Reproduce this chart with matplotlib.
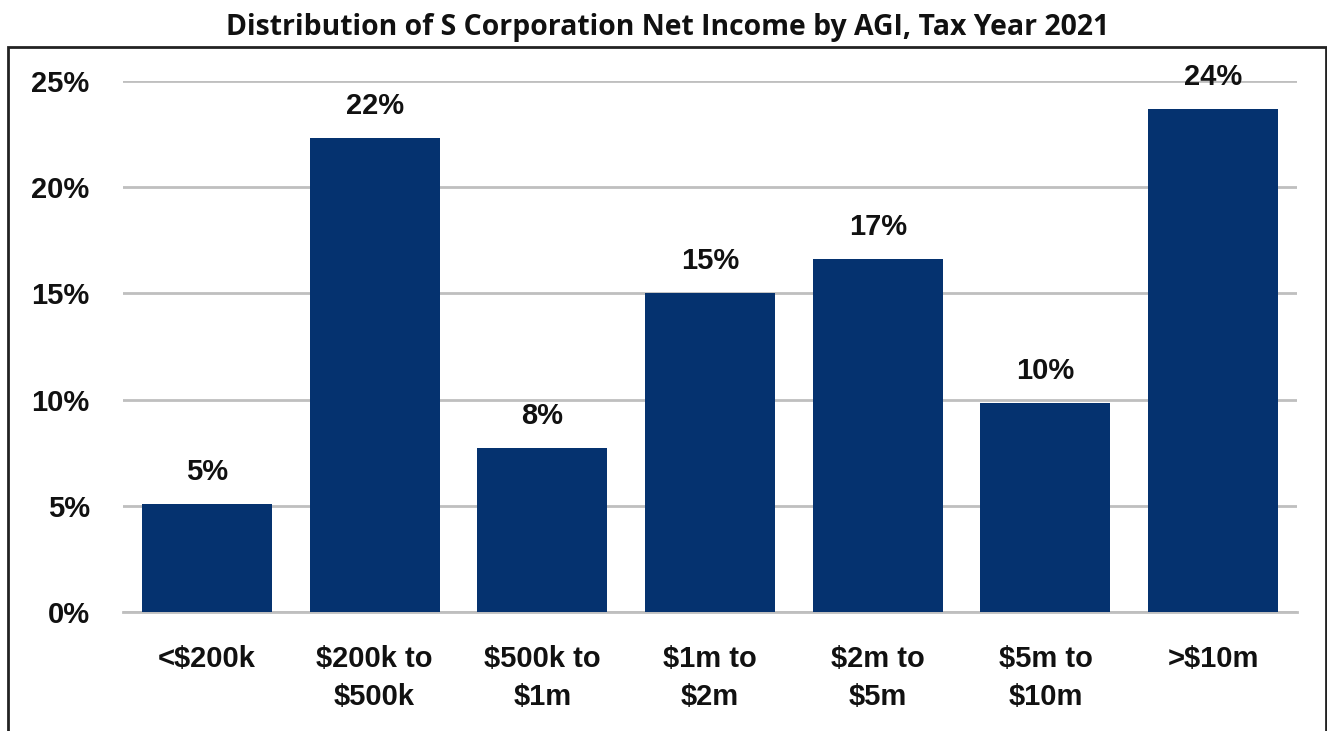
import matplotlib.pyplot as plt
from matplotlib.patches import Rectangle

# data
categories = ['<$200k', '$200k to\n$500k', '$500k to\n$1m', '$1m to\n$2m',
              '$2m to\n$5m', '$5m to\n$10m', '>$10m']
shares = [5.1, 22.3, 7.7, 15.0, 16.6, 9.85, 23.7]
yticks = [0, 5, 10, 15, 20, 25]

bar_color = '#05326f'
grid_color = '#bfbfbf'

plt.rcParams['font.family'] = ['Liberation Sans', 'DejaVu Sans']

fig = plt.figure(figsize=(13.27, 7.31), dpi=100)
ax = fig.add_axes([0.0927, 0.1628, 0.8847, 0.7264])

x = list(range(len(categories)))
ax.bar(x, shares, width=0.775, color=bar_color, zorder=3)

for xi, v in zip(x, shares):
    ax.annotate(f'{round(v):.0f}%', (xi, v), xytext=(0, 13), textcoords='offset points',
                ha='center', va='bottom', fontsize=21, fontweight='bold',
                color='#111111', clip_on=False, zorder=4)

ax.set_xlim(-0.5, len(categories) - 0.5)
ax.set_ylim(0, 25)
ax.set_yticks(yticks)
ax.set_yticklabels([f'{t}%' for t in yticks], fontsize=21, fontweight='bold', color='#111111')
ax.set_xticks(x)
ax.set_xticklabels(categories, fontsize=21, fontweight='bold', color='#111111',
                   linespacing=1.42)
ax.tick_params(axis='y', length=0, pad=24)
ax.tick_params(axis='x', length=0, pad=24)

ax.grid(axis='y', color=grid_color, linewidth=2, zorder=0)
for s in ['top', 'right', 'left']:
    ax.spines[s].set_visible(False)
ax.spines['bottom'].set_color(grid_color)
ax.spines['bottom'].set_linewidth(2)
ax.spines['bottom'].set_zorder(2)

# outer frame, open at the bottom edge of the image
frame = Rectangle((8 / 1327, -0.05), 1318 / 1327, 1.05 - 47 / 731,
                  transform=fig.transFigure, fill=False, edgecolor='#222222',
                  linewidth=2, clip_on=False)
fig.patches.append(frame)

fig.text(0.503, 1 - 27 / 731, 'Distribution of S Corporation Net Income by AGI, Tax Year 2021',
         ha='center', va='center', fontsize=20.4, fontweight='bold', color='#111111',
         family=['Open Sans', 'DejaVu Sans'])

fig.savefig('out.png', dpi=100, facecolor='white')
